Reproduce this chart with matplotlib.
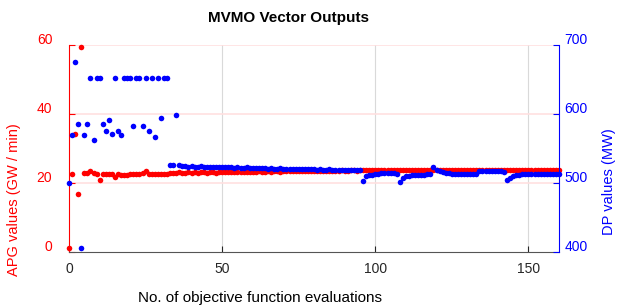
import matplotlib
matplotlib.use('Agg')
import matplotlib.pyplot as plt
from matplotlib.transforms import ScaledTranslation
import numpy as np

plt.rcParams['font.family'] = ['Liberation Sans', 'DejaVu Sans']

# APG values (GW / min), one per objective function evaluation
apg = [1.2, 22.6, 34.3, 16.9, 59.3,
       22.8, 22.9, 23.6, 22.9, 22.6, 21.0, 22.6, 22.7, 22.6, 22.7,
       21.8, 22.5, 22.4, 22.3, 22.2, 22.5, 22.6, 22.6, 22.7, 22.8,
       23.5, 22.7, 22.6, 22.6, 22.7, 22.6, 22.6, 22.7, 22.8, 22.9,
       23.0, 23.1, 22.9, 23.0, 23.1, 22.9, 23.1, 23.0, 23.1, 23.2,
       23.0, 23.1, 23.2, 23.0, 23.1, 23.2, 23.1, 23.2, 23.3, 23.2,
       23.2, 23.3, 23.2, 23.3, 23.3, 23.2, 23.3, 23.4, 23.3, 23.3,
       23.4, 23.3, 23.4, 23.4, 23.3, 23.4, 23.5, 23.4, 23.4, 23.5,
       23.4, 23.5, 23.5, 23.4, 23.5, 23.6, 23.5, 23.5, 23.6, 23.5,
       23.6, 23.6, 23.5, 23.6, 23.7, 23.6, 23.6, 23.7, 23.7, 23.6, 23.7,
       23.8, 23.8, 23.9, 23.8, 23.8, 23.9, 23.8, 23.9, 23.9, 23.8,
       23.8, 23.9, 23.8, 23.9, 23.9, 23.8, 23.9, 23.9, 23.8, 23.9,
       23.9, 23.9, 23.8, 23.9, 23.9, 23.9, 23.8, 23.9, 23.9, 23.9,
       23.9, 23.8, 23.9, 23.9, 23.9, 23.9, 23.9, 23.8, 23.9, 23.9,
       23.9, 23.9, 23.9, 23.9, 23.8, 23.9, 23.9, 23.9, 23.9, 23.9,
       23.9, 23.9, 23.9, 23.8, 23.9, 23.9, 23.9, 23.9, 23.9, 23.9,
       23.9, 23.9, 23.9, 23.9, 23.9]

# DP values (MW)
dp = [500, 570, 675, 585, 406, 570, 586, 652, 562, 652,
      652, 585, 575, 592, 571, 652, 576, 569, 652, 652,
      652, 582, 652, 652, 582, 652, 576, 652, 567, 652,
      594, 652, 652, 526, 526, 599, 526,
      524, 524, 523.5, 524, 523.5, 523, 524, 523.5, 523, 523,
      523.5, 523, 522.5, 523,
      522.5, 523, 522.5, 522, 522.5, 522, 522, 522.5, 521.5, 522,
      521.5, 521.5, 522, 521.5, 521, 521.5, 521, 521, 521.5, 521,
      520.5, 521, 520.5, 520.5, 520, 520.5, 520, 520, 520.5, 520,
      519.5, 520, 519.5, 519.5, 520, 519.5, 519, 519.5, 519, 519,
      519.5, 519, 519, 519, 518.5,
      503, 510, 511, 512, 513, 513.5, 514, 514, 514, 514,
      514, 513.5, 501.5, 507, 509.5, 510.5, 511, 511.5, 512, 512,
      512, 512.5, 512.5, 523, 519, 517, 515.5, 514.5, 514,
      513.5, 513.5, 513.5, 513.5, 513.5, 513.5, 513.5, 513.5, 513.5,
      517, 517, 517, 517, 517, 517, 517, 517,
      516.5, 504, 507.5, 509.5, 511, 512,
      512.5, 512.5, 512.5, 512.5, 512.5, 512.5, 512.5, 512.5, 512.5,
      512.5, 512.5, 512.5, 512.5]

evals = np.arange(len(apg))

fig = plt.figure(figsize=(6.17, 3.07), dpi=100)
ax1 = fig.add_axes([69/617, 1-252/307, 490/617, 207/307])
ax2 = ax1.twinx()

ax1.plot(evals, apg, 'o', color='red', markersize=4, markeredgewidth=0, clip_on=False)
ax2.plot(evals[:len(dp)], dp, 'o', color='blue', markersize=4, markeredgewidth=0, clip_on=False)

ax1.set_xlim(0, 160)
ax1.set_ylim(0, 60)
ax2.set_ylim(400, 700)
ax1.set_xticks([0, 50, 100, 150])
ax1.set_yticks([0, 20, 40, 60])
ax2.set_yticks([400, 500, 600, 700])

# grid lines like the original
for v in [50, 100, 150]:
    ax1.axvline(v, color='#d9d9d9', lw=0.8, zorder=0)
for v in [20, 40, 60]:
    ax1.axhline(v, color='#ffe0e0', lw=1.2, zorder=0)

for ax in (ax1, ax2):
    ax.spines['top'].set_visible(False)
ax1.spines['right'].set_visible(False)
ax2.spines['left'].set_visible(False)
ax2.spines['bottom'].set_visible(False)
ax1.spines['left'].set_color('red')
ax1.spines['bottom'].set_color('#555555')
ax2.spines['right'].set_color('blue')

ax1.tick_params(axis='y', direction='in', colors='red', labelsize=10, length=4, pad=12)
ax1.tick_params(axis='x', direction='in', colors='#262626', labelsize=10, length=4, pad=7)
ax2.tick_params(axis='y', direction='in', colors='blue', labelsize=10, length=4, pad=4)

shift = ScaledTranslation(0, 5/72, fig.dpi_scale_trans)
for lab in ax1.get_yticklabels() + ax2.get_yticklabels():
    lab.set_transform(lab.get_transform() + shift)

fig.text(289/617, 1-18/307, 'MVMO Vector Outputs', ha='center', va='center',
         fontsize=11, fontweight='bold')
fig.text(260/617, 1-298/307, 'No. of objective function evaluations', ha='center',
         va='center', fontsize=11)
fig.text(14/617, 1-200/307, 'APG values (GW / min)', rotation=90, ha='center',
         va='center', fontsize=10.5, color='red')
fig.text(609/617, 1-182/307, 'DP values (MW)', rotation=90, ha='center',
         va='center', fontsize=10.5, color='blue')

fig.savefig('out.png', dpi=100)
